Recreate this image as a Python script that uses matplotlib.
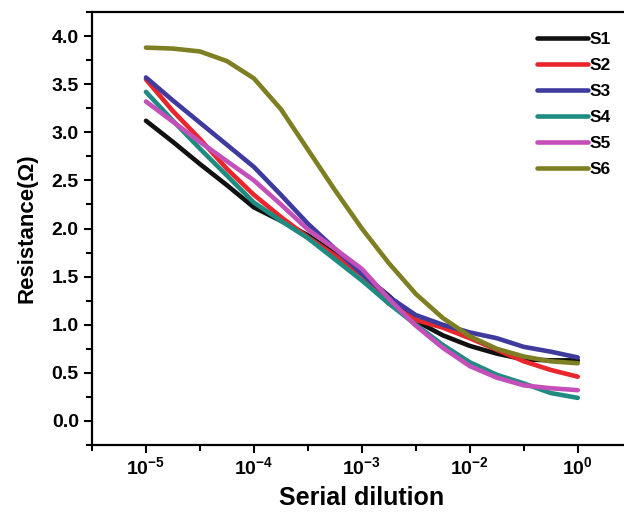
import matplotlib
matplotlib.use("Agg")
import matplotlib.pyplot as plt
from matplotlib.ticker import MultipleLocator

plt.rcParams['font.family'] = ['Liberation Sans', 'DejaVu Sans']
plt.rcParams['font.weight'] = 'bold'
plt.rcParams['mathtext.fontset'] = 'custom'
plt.rcParams['mathtext.rm'] = 'Liberation Sans:bold'
plt.rcParams['mathtext.bf'] = 'Liberation Sans:bold'

# positions along the (evenly spaced) dilution axis
pos = [0, 0.25, 0.5, 0.75, 1, 1.25, 1.5, 1.75, 2, 2.25, 2.5, 2.75, 3, 3.25, 3.5, 3.75, 4]
tick_pos = [0, 1, 2, 3, 4]
tick_labels = [r'$\mathbf{10^{-5}}$', r'$\mathbf{10^{-4}}$', r'$\mathbf{10^{-3}}$',
               r'$\mathbf{10^{-2}}$', r'$\mathbf{10^{0}}$']

s1 = [3.12, 2.90, 2.67, 2.45, 2.22, 2.08, 1.93, 1.74, 1.53, 1.30, 1.04, 0.89, 0.78, 0.70, 0.64, 0.63, 0.63]
s2 = [3.55, 3.22, 2.93, 2.62, 2.35, 2.12, 1.91, 1.72, 1.52, 1.22, 1.05, 0.97, 0.86, 0.74, 0.62, 0.53, 0.46]
s3 = [3.57, 3.33, 3.10, 2.87, 2.64, 2.35, 2.05, 1.79, 1.53, 1.29, 1.10, 1.00, 0.92, 0.86, 0.77, 0.72, 0.66]
s4 = [3.42, 3.12, 2.83, 2.55, 2.27, 2.08, 1.90, 1.68, 1.46, 1.22, 1.00, 0.79, 0.61, 0.48, 0.39, 0.29, 0.24]
s5 = [3.32, 3.11, 2.90, 2.70, 2.50, 2.25, 1.99, 1.79, 1.58, 1.27, 0.99, 0.76, 0.57, 0.45, 0.37, 0.34, 0.32]
s6 = [3.88, 3.87, 3.84, 3.74, 3.56, 3.24, 2.82, 2.40, 2.00, 1.64, 1.32, 1.07, 0.88, 0.75, 0.67, 0.62, 0.60]

series = [('S1', s1, '#111111'), ('S2', s2, '#e8262b'), ('S3', s3, '#3f3b9e'),
          ('S4', s4, '#1f8c82'), ('S5', s5, '#c54fb8'), ('S6', s6, '#7d7f22')]

fig = plt.figure(figsize=(6.24, 5.2), dpi=100)
ax = fig.add_axes([0.1474, 0.1442, 0.865, 0.8327])

for name, vals, col in series:
    ax.plot(pos, vals, color=col, lw=3.3, label=name,
            solid_capstyle='round', solid_joinstyle='round')

ax.set_xlim(-0.5, 4.5)
ax.set_ylim(-0.25, 4.25)
ax.set_xticks(tick_pos)
ax.set_xticklabels(tick_labels)
ax.xaxis.set_minor_locator(MultipleLocator(0.5))
ax.yaxis.set_major_locator(MultipleLocator(0.5))
ax.yaxis.set_minor_locator(MultipleLocator(0.25))
ax.tick_params(which='major', direction='out', length=6, width=1.5, labelsize=14)
ax.tick_params(which='minor', direction='out', length=4, width=1.5)
ax.tick_params(axis='x', which='major', pad=2)
ax.tick_params(top=False, right=False)
for sp in ax.spines.values():
    sp.set_linewidth(1.6)
ax.spines['right'].set_visible(False)

ax.set_xlabel('Serial dilution', fontsize=18, fontweight='bold', labelpad=6)
ax.set_ylabel('Resistance(Ω)', fontsize=16, fontweight='bold', labelpad=10)

leg = ax.legend(loc='upper right', bbox_to_anchor=(0.99, 0.99), frameon=False,
                handlelength=2.9, handletextpad=0.1, labelspacing=0.62,
                prop={'size': 12.5, 'weight': 'bold'})

fig.savefig('out.png', dpi=100)
